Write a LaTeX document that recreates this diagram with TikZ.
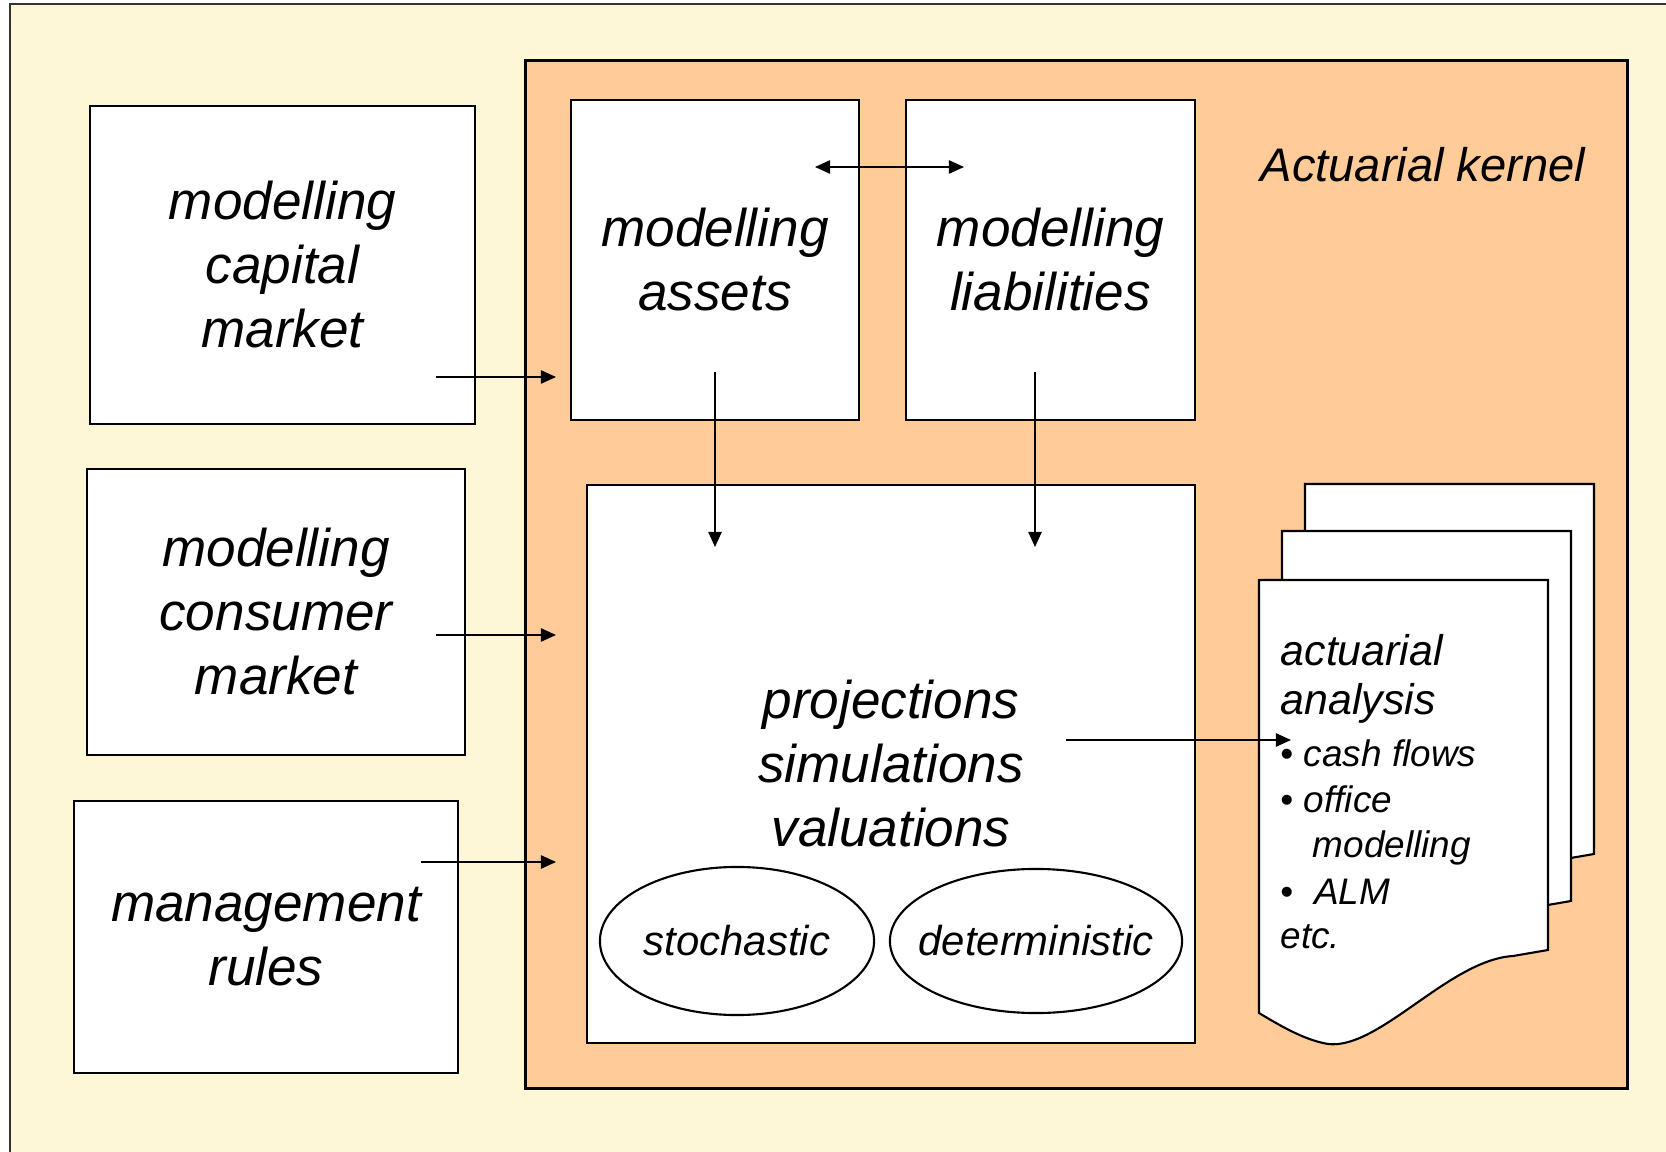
\documentclass[tikz,border=0pt]{standalone}
\usepackage{fontspec}
\setmainfont{Liberation Sans}
\usepackage{tikz}
\usetikzlibrary{arrows.meta,shapes,positioning,calc}
\definecolor{cream}{HTML}{FDF7D8}
\definecolor{peach}{HTML}{FFCC99}

\begin{document}
\begin{tikzpicture}[x=0.01cm,y=-0.01cm]

        \tikzstyle{box}=[draw,fill=white,line width=0.6pt,align=center,inner sep=0pt,font=\fontsize{15.1}{18.2}\selectfont\itshape]
        \tikzstyle{oval}=[draw,fill=white,ellipse,line width=0.6pt,inner sep=0pt,font=\fontsize{11.9}{14}\selectfont\itshape]
        \tikzstyle{arr}=[-{Triangle[length=4.3pt,width=3.8pt]},line width=0.45pt]
        \tikzstyle{sheet}=[draw,fill=white,line width=0.6pt]
        \tikzstyle{docline}=[anchor=base west,inner sep=0pt,font=\fontsize{10.5}{12.6}\selectfont\itshape]

        \useasboundingbox (0,0) rectangle (1666,1152);
        \clip (0,0) rectangle (1666,1152);
        \draw[fill=cream,line width=0.8pt,draw=black!80] (10,4) rectangle (1700,1200);

        % kernel
        \node[draw,fill=peach,line width=0.8pt,minimum width=11.01cm,minimum height=10.27cm] (kernel) at (1076.5,574.5) {};
        \node[font=\fontsize{13.4}{16}\selectfont\itshape] (kname) at (1423,165) {Actuarial kernel};

        % markets
        \node[box,minimum width=3.85cm,minimum height=3.18cm] (cap) at (282.5,265) {modelling\\capital\\market};
        \node[box,minimum width=3.78cm,minimum height=2.86cm] (cons) at (276,612) {modelling\\consumer\\market};
        \node[box,minimum width=3.84cm,minimum height=2.72cm] (mgmt) at (266,937) {management\\rules};

        \node[box,minimum width=2.88cm,minimum height=3.20cm] (assets) at (715,260) {modelling\\assets};
        \node[box,minimum width=2.89cm,minimum height=3.20cm] (liab) at (1050.5,260) {modelling\\liabilities};

        \node[box,minimum width=6.08cm,minimum height=5.58cm] (proj) at (891,764) {projections\\simulations\\valuations};
        \node[oval,minimum width=2.74cm,minimum height=1.48cm] (stoch) at (737,941) {\makebox[0pt]{stochastic}};
        \node[oval,minimum width=2.92cm,minimum height=1.44cm] (determ) at (1036,941) {\makebox[0pt]{deterministic}};

        % output sheets
        \foreach \dx/\dy in {1305/484,1282/531,1259/580}
          \draw[sheet,shift={(\dx,\dy)}] (0,0) -- (289,0) -- (289,370) -- (254,376)
            .. controls (190,380) and (120,470) .. (69,464)
            .. controls (45,460) and (20,445) .. (0,433) -- cycle;

        \node[docline,font=\fontsize{12.2}{14.6}\selectfont\itshape] (out1) at (1280,666) {actuarial};
        \node[docline,font=\fontsize{12.2}{14.6}\selectfont\itshape] (out2) at (1280,715) {analysis};
        \node[docline] (out3) at (1280,767) {•\ cash flows};
        \node[docline] (out4) at (1280,812) {•\ office};
        \node[docline] (out5) at (1312,857) {modelling};
        \node[docline] (out6) at (1280,904) {•\ \ ALM};
        \node[docline] (out7) at (1280,948) {etc.};

        % arrows
        \coordinate (capout) at (436,377);
        \coordinate (capin) at (556,377);
        \coordinate (consout) at (436,635);
        \coordinate (consin) at (556,635);
        \coordinate (mgmtout) at (421,862);
        \coordinate (mgmtin) at (556,862);
        \coordinate (assetout) at (715,372);
        \coordinate (assetin) at (715,547);
        \coordinate (liabout) at (1035,372);
        \coordinate (liabin) at (1035,547);
        \coordinate (linkl) at (815,167);
        \coordinate (linkr) at (964,167);
        \coordinate (projout) at (1066,740);
        \coordinate (projin) at (1291,740);

        \draw[arr] (capout) -- (capin);
        \draw[arr] (consout) -- (consin);
        \draw[arr] (mgmtout) -- (mgmtin);
        \draw[arr] (assetout) -- (assetin);
        \draw[arr] (liabout) -- (liabin);
        \draw[line width=0.45pt,{Triangle[length=4.3pt,width=3.8pt]}-{Triangle[length=4.3pt,width=3.8pt]}] (linkl) -- (linkr);
        \draw[arr] (projout) -- (projin);

\end{tikzpicture}
\end{document}
